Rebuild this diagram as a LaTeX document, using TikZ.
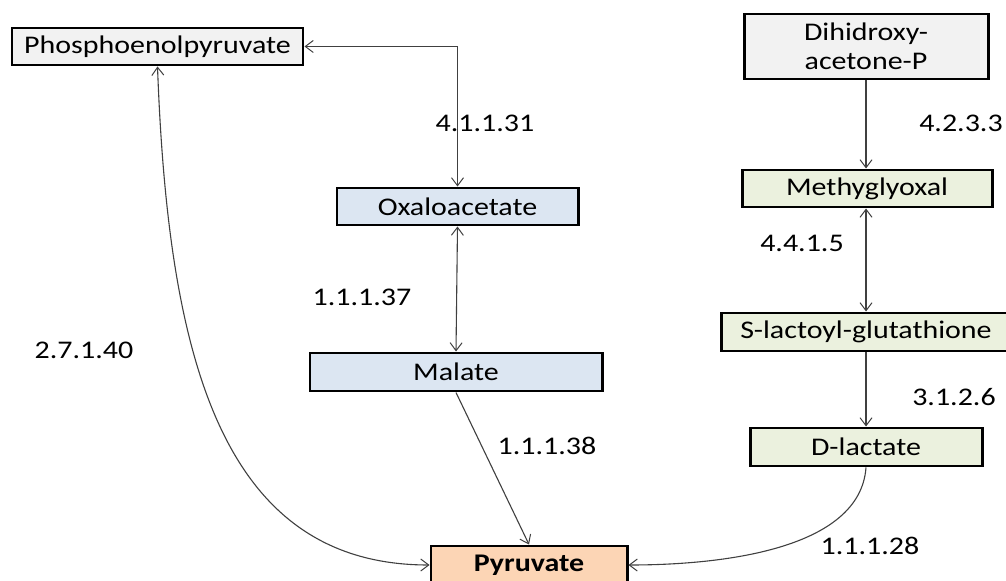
\documentclass[tikz,border=0pt]{standalone}
\usepackage{fontspec}
\setmainfont{Carlito}[FakeStretch=1.18]
\usetikzlibrary{arrows.meta}
\definecolor{greyfill}{HTML}{F2F2F2}
\definecolor{bluefill}{HTML}{DCE6F2}
\definecolor{greenfill}{HTML}{EBF1DE}
\definecolor{peachfill}{HTML}{FCD5B5}
\definecolor{linecol}{HTML}{404040}
\tikzset{
  box/.style={draw=black, line width=3pt, inner sep=0pt, align=center,
    font=\fontsize{25.5}{29}\selectfont},
  lab/.style={font=\fontsize{25.5}{29}\selectfont, inner sep=0pt},
  conn/.style={draw=linecol, line width=1.1pt,
    arrows={-Straight Barb[length=8pt,width=12pt,line width=1pt]}},
  bconn/.style={conn, arrows={Straight Barb[length=8pt,width=12pt,line width=1pt]-Straight Barb[length=8pt,width=12pt,line width=1pt]}}
}
\begin{document}
\begin{tikzpicture}[x=1bp,y=-1bp]
\useasboundingbox (0,0) rectangle (1006,581);
\fill[white] (0,0) rectangle (1006,581);
% nodes
\node[box, fill=greyfill, minimum width=291bp, minimum height=37bp] (pep) at (157.5,46.5) {Phosphoenolpyruvate};
\node[box, fill=bluefill, minimum width=241bp, minimum height=37bp] (oxa) at (457.5,206.5) {Oxaloacetate};
\node[box, fill=bluefill, minimum width=292bp, minimum height=38bp] (mal) at (456,372) {Malate};
\node[box, fill=peachfill, minimum width=196bp, minimum height=38bp, font=\fontsize{25.5}{29}\selectfont\bfseries] (pyr) at (529,565) {Pyruvate};
\node[box, fill=greyfill, minimum width=244bp, minimum height=65bp] (dhap) at (866,46.5) {Dihidroxy-\\acetone-P};
\node[box, fill=greenfill, minimum width=250bp, minimum height=37bp] (mgo) at (867,188.5) {Methyglyoxal};
\node[box, fill=greenfill, minimum width=290bp, minimum height=38bp] (slg) at (866,332) {S-lactoyl-glutathione};
\node[box, fill=greenfill, minimum width=232bp, minimum height=38bp] (dlac) at (866,447) {D-lactate};
% labels
\node[lab] (l1) at (485,123) {4.1.1.31};
\node[lab] (l2) at (961,123) {4.2.3.3};
\node[lab] (l3) at (802,243) {4.4.1.5};
\node[lab] (l4) at (362,297) {1.1.1.37};
\node[lab] (l5) at (84,350) {2.7.1.40};
\node[lab] (l6) at (547,446) {1.1.1.38};
\node[lab] (l7) at (954,397) {3.1.2.6};
\node[lab] (l8) at (870,546) {1.1.1.28};
% connectors
\draw[bconn] (pep.east) -| (oxa.north);
\draw[bconn] (oxa.south) -- (mal.north);
\draw[conn] (mal.south) -- (pyr.north);
\draw[bconn] (pep.south) .. controls (168,350) and (218,565) .. (pyr.west);
\draw[conn] (dhap.south) -- (dhap.south |- mgo.north);
\draw[bconn] (mgo.south -| slg.north) -- (slg.north);
\draw[conn] (slg.south) -- (dlac.north);
\draw[conn] (dlac.south) .. controls (860,550) and (720,565) .. (pyr.east);
\end{tikzpicture}
\end{document}
